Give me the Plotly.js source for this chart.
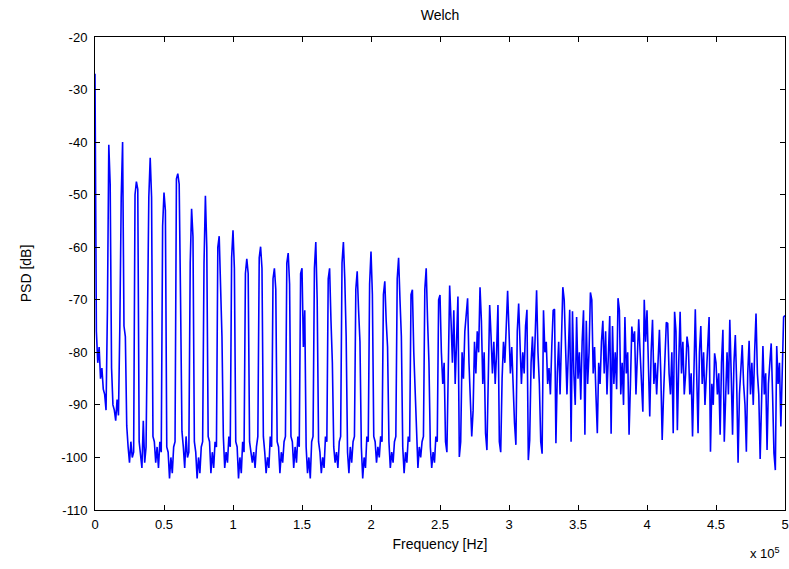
<!DOCTYPE html>
<html>
<head>
<meta charset="utf-8">
<script src="https://cdn.plot.ly/plotly-3.0.1.min.js"></script>
<style>html,body{margin:0;padding:0;background:#fff;}#chart{width:789px;height:569px;}</style>
</head>
<body>
<div id="chart"></div>
<script>
// Frequency bin spacing of the Welch estimate (Hz)
const binHz = 1000;

// PSD values in dB, one per 1 kHz bin
const psd0to99k = [
  -27, -76, -82, -79, -85, -83, -87, -88, -91, -72,
  -40.5, -48, -83, -90, -91, -93, -89, -92, -75, -50.6,
  -40, -75, -77, -94, -98, -101, -97, -100, -99, -50,
  -47.5, -49, -97, -99, -102, -93, -101, -98, -66, -50.5,
  -43, -50.5, -96, -97, -101, -98, -102, -97, -99, -56,
  -49.6, -53, -98, -99, -104, -100, -103, -98, -97, -47,
  -46, -48, -70, -95, -98, -102, -96, -100, -99, -63,
  -52.7, -58, -97, -99, -104, -100, -103, -98, -97, -63,
  -50.2, -60, -96, -97, -103, -99, -102, -97, -98, -60,
  -57.9, -68, -77, -96, -102, -99, -101, -96, -98, -62
];
const psd100to199k = [
  -56.8, -64, -97, -98, -104, -100, -103, -97, -99, -65,
  -62.2, -65, -97, -99, -101, -99, -102, -98, -96, -62,
  -59.9, -64, -96, -99, -103, -100, -102, -96, -98, -66,
  -64, -68, -97, -98, -103, -99, -101, -97, -96, -63,
  -61.1, -67, -96, -97, -102, -98, -101, -96, -98, -65,
  -64, -79, -72, -98, -103, -100, -104, -97, -96, -64,
  -59, -70, -97, -99, -103, -100, -102, -96, -97, -66,
  -64, -74, -82, -98, -101, -99, -102, -97, -96, -63,
  -59, -66, -77, -99, -103, -98, -101, -97, -96, -68,
  -64.6, -72, -78, -98, -104, -100, -102, -96, -97, -67
];
const psd200to299k = [
  -60.8, -69, -96, -97, -101, -98, -100, -96, -97, -69,
  -66.5, -74, -79, -97, -102, -99, -101, -97, -96, -66,
  -62, -70, -77, -98, -103, -99, -101, -96, -97, -69,
  -68.1, -80, -88, -97, -102, -98, -100, -97, -96, -68,
  -64, -74, -82, -98, -102, -99, -101, -96, -97, -70,
  -69.1, -80, -86, -82, -97, -99, -78, -67.3, -74, -82,
  -72, -86, -78, -69.4, -99.9, -97, -80, -85, -76, -72,
  -69.7, -82, -88, -96, -91, -78, -84, -76, -80, -67.6,
  -74, -86, -80, -95.4, -98.6, -82, -71, -77, -84, -78,
  -86, -80, -71, -97, -99, -85, -78, -82, -74, -68.3
];
const psd300to399k = [
  -76, -84, -79, -88, -93.5, -97.6, -76, -70.7, -78, -86,
  -80, -84, -75, -71.9, -100.5, -96.7, -82, -77, -85, -74,
  -68.2, -80, -86, -97, -99.3, -72, -80, -78, -86, -83,
  -88, -79, -72, -71.8, -97.3, -84, -78, -88, -76, -67.6,
  -70, -82, -88, -80, -71.9, -97, -72.2, -84, -90, -73.3,
  -85, -80, -89, -78, -72, -95.7, -74, -86, -80, -68.6,
  -70, -84, -79, -88, -95.4, -82, -86, -78, -74, -84,
  -76, -88, -82, -73.1, -95.5, -75, -86, -80, -87, -69.7,
  -72, -88, -82, -90, -73.3, -84, -80, -95.7, -86, -75.1,
  -78, -76, -88, -82, -73.7, -80, -86, -91.3, -70, -78
];
const psd400to500k = [
  -72, -84, -92.2, -80, -73.8, -86, -82, -88, -80, -75.7,
  -84, -96.7, -88, -80, -74.3, -74.5, -84, -88, -80, -95.4,
  -72.3, -76, -94.8, -82, -72.3, -84, -78, -88, -84, -77,
  -79, -88, -84, -96, -80, -71.8, -84, -95.4, -80, -75,
  -86, -80, -90, -84, -78, -73.3, -98.9, -86, -90, -80.2,
  -82, -88, -84, -95.7, -82, -75.7, -97, -86, -80, -88,
  -73.8, -84, -95.7, -82, -76.7, -86, -101, -88, -82, -78.6,
  -86, -90, -98.9, -84, -77.8, -88, -82, -90, -80, -72.6,
  -84, -88, -100.3, -86, -78.8, -88, -84, -98.6, -86, -82,
  -78.3, -88, -99.2, -102.4, -78.8, -86, -82, -94.1, -84, -73.3,
  -73
];

// Axis tick labels (MATLAB style, with an exponent note on x)
const xTickVals = [0, 50000, 100000, 150000, 200000, 250000, 300000, 350000, 400000, 450000, 500000];
const xTickText = ['0', '0.5', '1', '1.5', '2', '2.5', '3', '3.5', '4', '4.5', '5'];
const yTickVals = [-110, -100, -90, -80, -70, -60, -50, -40, -30, -20];
const yTickText = ['-110', '-100', '-90', '-80', '-70', '-60', '-50', '-40', '-30', '-20'];

const psd = [].concat(psd0to99k, psd100to199k, psd200to299k, psd300to399k, psd400to500k);
const freq = psd.map((_, i) => i * binHz);

const fam = 'Liberation Sans, Arial, sans-serif';
const tickFont = {family: fam, size: 13, color: '#000'};
const labelFont = {family: fam, size: 14, color: '#000'};

const trace = {
  x: freq, y: psd, type: 'scatter', mode: 'lines',
  line: {color: '#0000ff', width: 1.6},
  hoverinfo: 'skip'
};

const axisCommon = {
  showline: true, linecolor: '#000', linewidth: 1, mirror: 'ticks',
  ticks: 'inside', ticklen: 5, tickwidth: 1, tickcolor: '#000',
  showgrid: false, zeroline: false, tickfont: tickFont, fixedrange: true
};

const layout = {
  width: 789, height: 569,
  margin: {l: 95, r: 4, t: 37, b: 59},
  paper_bgcolor: '#fff', plot_bgcolor: '#fff',
  font: tickFont,
  showlegend: false,
  title: {text: 'Welch', font: labelFont,
          xref: 'paper', x: 0.5, xanchor: 'center', yref: 'container', y: 0.973, yanchor: 'middle'},
  xaxis: Object.assign({}, axisCommon, {
    range: [0, 500000], tickmode: 'array', tickvals: xTickVals, ticktext: xTickText,
    ticklabelstandoff: 2,
    title: {text: 'Frequency [Hz]', font: labelFont, standoff: 8}
  }),
  yaxis: Object.assign({}, axisCommon, {
    range: [-110, -20], tickmode: 'array', tickvals: yTickVals, ticktext: yTickText,
    ticklabelstandoff: 4,
    title: {text: 'PSD [dB]', font: labelFont, standoff: 26}
  }),
  annotations: [{
    text: 'x 10<sup>5</sup>', xref: 'paper', yref: 'paper', x: 0.995, y: -0.07,
    xanchor: 'right', yanchor: 'top', showarrow: false, font: tickFont
  }]
};

Plotly.newPlot('chart', [trace], layout, {displayModeBar: false, staticPlot: true});
</script>
</body>
</html>
